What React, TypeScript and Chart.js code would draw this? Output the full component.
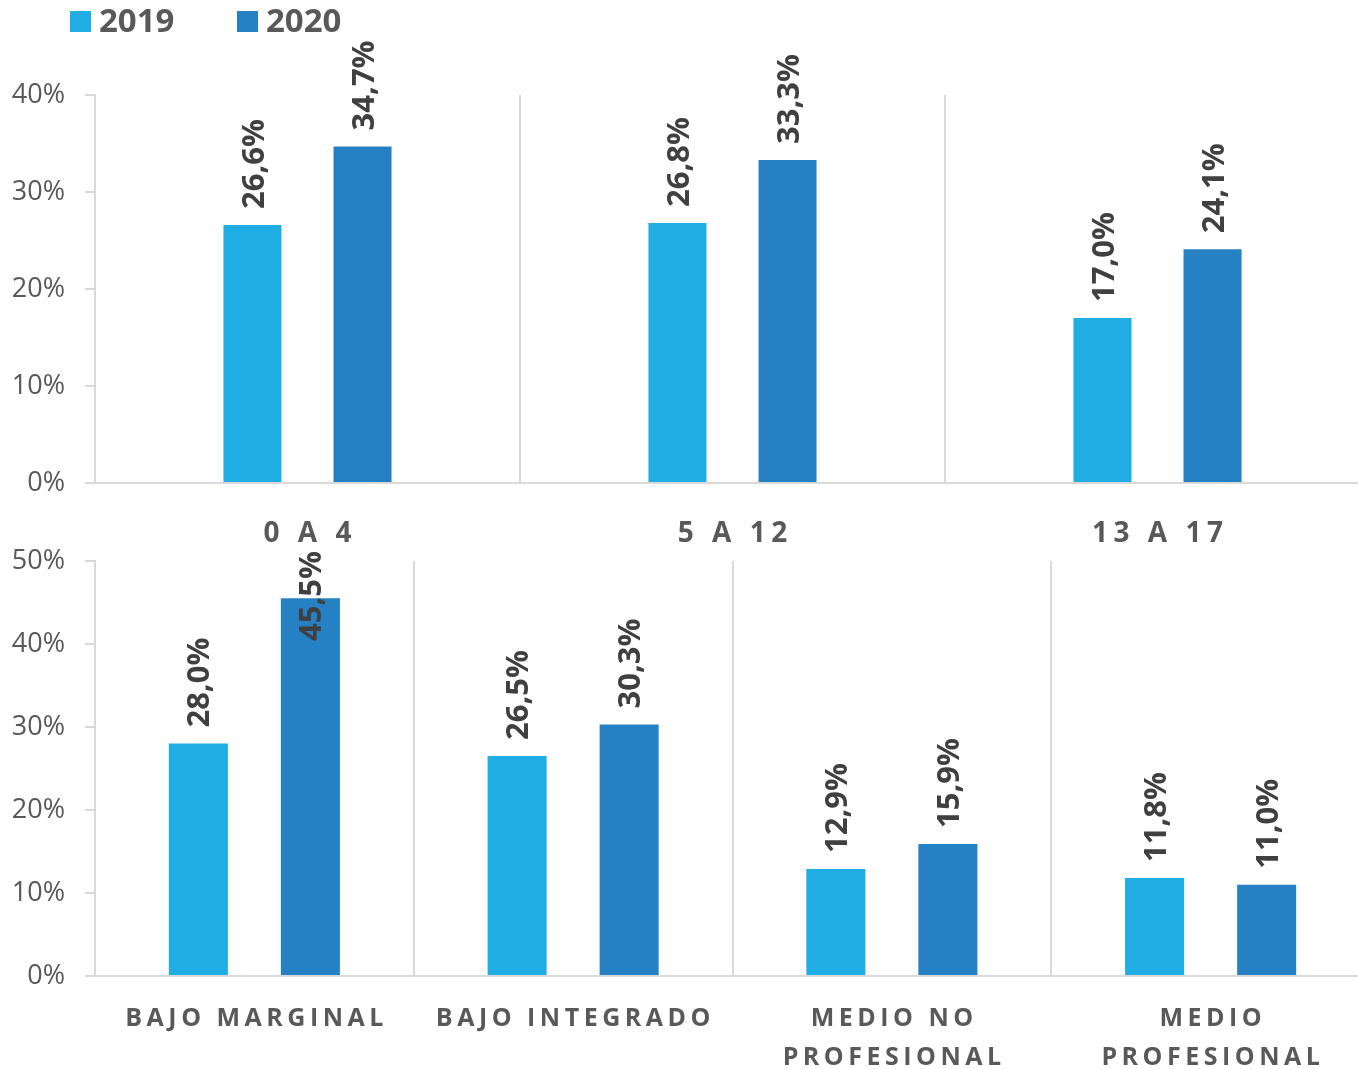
import React, { useEffect, useRef } from 'react';
import { Chart, registerables } from 'chart.js';
Chart.register(...registerables);

// ---------- data ----------
const seriesNames = ['2019', '2020'];
const seriesColors = ['#1FADE4', '#2581C4'];

const ageCategories = [['0 A 4'], ['5 A 12'], ['13 A 17']];
const age2019 = [26.6, 26.8, 17.0];
const age2020 = [34.7, 33.3, 24.1];
const ageTickMax = 40;
const ageTickStep = 10;

const nseCategories = [['BAJO MARGINAL'], ['BAJO INTEGRADO'], ['MEDIO NO', 'PROFESIONAL'], ['MEDIO', 'PROFESIONAL']];
const nse2019 = [28.0, 26.5, 12.9, 11.8];
const nse2020 = [45.5, 30.3, 15.9, 11.0];
const nseTickMax = 50;
const nseTickStep = 10;

// ---------- styles ----------
const GRID = '#d9d9d9';
const TICK_COLOR = '#595959';
const LABEL_COLOR = '#404040';
const FONT = '"Open Sans", "DejaVu Sans", sans-serif';
const CANVAS_W = 1372;
const PLOT_LEFT = 95;
const PLOT_RIGHT = 1370;

const fmt = (v: number) => v.toFixed(1).replace('.', ',') + '%';

type PanelProps = {
  top: number;
  height: number;
  categories: string[][];
  s2019: number[];
  s2020: number[];
  max: number;
  step: number;
  padTop: number;
  plotBottom: number;
  catPct: number;
  barPct: number;
  catFont: string;
  catSpacing: number;
  catOffset: number;
  catLineH: number;
  minLabelTop: number;
  legend: boolean;
};

function BarPanel(p: PanelProps) {
  const ref = useRef<HTMLCanvasElement | null>(null);
  useEffect(() => {
    if (!ref.current) return;
    const axisH = p.height - p.plotBottom;

    const barLabels = {
      id: 'barLabels',
      afterDatasetsDraw(chart: any) {
        const ctx = chart.ctx;
        ctx.save();
        const size = 31;
        ctx.font = `bold ${size}px ${FONT}`;
        ctx.fillStyle = LABEL_COLOR;
        ctx.textAlign = 'left';
        ctx.textBaseline = 'alphabetic';
        const cap = size * 0.714;
        chart.data.datasets.forEach((ds: any, di: number) => {
          const meta = chart.getDatasetMeta(di);
          meta.data.forEach((bar: any, i: number) => {
            const txt = fmt(ds.data[i]);
            const w = ctx.measureText(txt).width;
            let start = bar.y - 16;
            if (start - w < p.minLabelTop) start = p.minLabelTop + w;
            ctx.save();
            ctx.translate(bar.x + cap / 2, start);
            ctx.rotate(-Math.PI / 2);
            ctx.fillText(txt, 0, 0);
            ctx.restore();
          });
        });
        ctx.restore();
      },
    };

    const catLabels = {
      id: 'catLabels',
      afterDraw(chart: any) {
        const ctx = chart.ctx;
        const xs = chart.scales.x;
        ctx.save();
        ctx.font = p.catFont;
        (ctx as any).letterSpacing = p.catSpacing + 'px';
        ctx.fillStyle = TICK_COLOR;
        ctx.textAlign = 'center';
        ctx.textBaseline = 'alphabetic';
        p.categories.forEach((lines, i) => {
          const x = xs.getPixelForTick(i) + p.catSpacing / 2;
          lines.forEach((ln, li) => {
            ctx.fillText(ln, x, chart.chartArea.bottom + p.catOffset + li * p.catLineH);
          });
        });
        ctx.restore();
      },
    };

    const legendPlugin = {
      id: 'customLegend',
      afterDraw(chart: any) {
        if (!p.legend) return;
        const ctx = chart.ctx;
        ctx.save();
        ctx.font = `bold 33px ${FONT}`;
        ctx.textBaseline = 'alphabetic';
        ctx.textAlign = 'left';
        const positions = [70, 237];
        seriesNames.forEach((n, i) => {
          ctx.fillStyle = seriesColors[i];
          ctx.fillRect(positions[i], 11, 21, 21);
          ctx.fillStyle = TICK_COLOR;
          ctx.fillText(n, positions[i] + 29, 32);
        });
        ctx.restore();
      },
    };

    const chart = new Chart(ref.current, {
      type: 'bar',
      data: {
        labels: p.categories.map((c) => c.join(' ')),
        datasets: [
          { label: seriesNames[0], data: p.s2019, backgroundColor: seriesColors[0], categoryPercentage: p.catPct, barPercentage: p.barPct },
          { label: seriesNames[1], data: p.s2020, backgroundColor: seriesColors[1], categoryPercentage: p.catPct, barPercentage: p.barPct },
        ],
      },
      options: {
        responsive: false,
        animation: false,
        devicePixelRatio: 1,
        layout: { padding: { top: p.padTop, right: CANVAS_W - PLOT_RIGHT, left: 0, bottom: 0 } },
        plugins: { legend: { display: false }, tooltip: { enabled: false } },
        scales: {
          x: {
            ticks: { display: false },
            grid: { offset: true, drawTicks: false, color: GRID, lineWidth: 2 },
            border: { display: true, color: GRID, width: 2 },
            afterFit: (s: any) => { s.height = axisH; },
          },
          y: {
            min: 0,
            max: p.max,
            ticks: {
              stepSize: p.step,
              padding: 20,
              color: TICK_COLOR,
              font: { family: FONT, size: 27 },
              callback: (v: any) => v + '%',
            },
            grid: { drawOnChartArea: false, drawTicks: true, tickLength: 10, color: GRID, lineWidth: 2 },
            border: { display: true, color: GRID, width: 2 },
            afterFit: (s: any) => { s.width = PLOT_LEFT; },
          },
        },
      },
      plugins: [barLabels, catLabels, legendPlugin],
    } as any);
    return () => chart.destroy();
  }, []);
  return (
    <canvas
      ref={ref}
      width={CANVAS_W}
      height={p.height}
      style={{ position: 'absolute', left: 0, top: p.top, width: CANVAS_W, height: p.height }}
    />
  );
}

export default function App() {
  return (
    <div style={{ position: 'absolute', left: 0, top: 0, width: 1358, height: 1069, overflow: 'hidden', background: '#fff' }}>
      <BarPanel
        top={0}
        height={550}
        categories={ageCategories}
        s2019={age2019}
        s2020={age2020}
        max={ageTickMax}
        step={ageTickStep}
        padTop={95}
        plotBottom={483}
        catPct={0.518}
        barPct={0.527}
        catFont={`bold 28px ${FONT}`}
        catSpacing={5.5}
        catOffset={59}
        catLineH={39}
        minLabelTop={0}
        legend={true}
      />
      <BarPanel
        top={515}
        height={554}
        categories={nseCategories}
        s2019={nse2019}
        s2020={nse2020}
        max={nseTickMax}
        step={nseTickStep}
        padTop={46}
        plotBottom={461}
        catPct={0.703}
        barPct={0.527}
        catFont={`bold 25px ${FONT}`}
        catSpacing={4.5}
        catOffset={50}
        catLineH={39}
        minLabelTop={36}
        legend={false}
      />
    </div>
  );
}
